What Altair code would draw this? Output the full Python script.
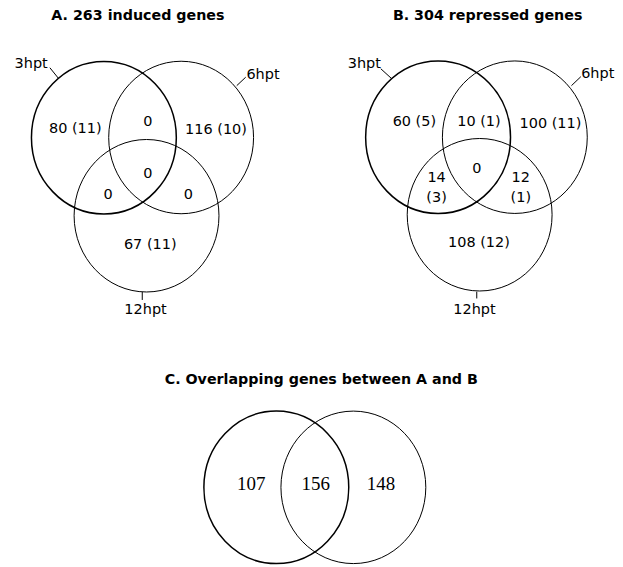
import altair as alt
import pandas as pd

# ---------------- data ----------------
titles = ["A. 263 induced genes", "B. 304 repressed genes",
          "C. Overlapping genes between A and B"]
sets_A = ["3hpt", "6hpt", "12hpt"]
sets_B = ["3hpt", "6hpt", "12hpt"]
sets_C = ["A", "B"]
labels_A = ["80 (11)", "0", "116 (10)", "0", "0", "0", "67 (11)"]
labels_B = ["60 (5)", "10 (1)", "100 (11)", "14\n(3)", "0", "12\n(1)", "108 (12)"]
labels_C = ["107", "156", "148"]

# ---------------- layout (page pixel positions) ----------------
title_x = [138.3, 489.2, 322.3]
title_y = [19, 19, 384]

circ_x_A = [104.2, 181.7, 147.0]
circ_y_A = [137.2, 137.0, 215.5]
circ_x_B = [439.5, 516.5, 481.2]
circ_y_B = [136.7, 136.7, 214.5]
circ_x_C = [277.2, 354.5]
circ_y_C = [488.0, 488.0]
circ_w_A = [1.5, 1.0, 1.0]
circ_w_B = [1.5, 1.0, 1.0]
circ_w_C = [1.5, 1.0]
RY = 76.5
ELLIPSE = "M -0.95 0 A 0.95 1 0 1 1 0.95 0 A 0.95 1 0 1 1 -0.95 0 Z"

reg_x_A = [75.5, 148.3, 216.7, 108.3, 148.3, 189.0, 150.7]
reg_y_A = [132.5, 125.0, 133.0, 198.3, 177.7, 198.3, 249.0]
reg_x_B = [415.7, 480.5, 552.2, 438.0, 478.5, 522.5, 480.5]
reg_y_B = [125.7, 125.7, 127.7, 181.7, 172.7, 181.7, 246.7]
reg_x_C = [252.0, 316.8, 382.2]
reg_y_C = [491.0, 491.0, 491.0]

setlab_x_A = [31.2, 263.8, 146.0]
setlab_y_A = [67.0, 78.0, 314.0]
setlab_x_B = [365.5, 599.7, 476.0]
setlab_y_B = [67.0, 77.0, 314.0]

lead_x_A = [50.0, 237.5, 142.7]
lead_y_A = [67.0, 85.0, 292.0]
lead_x2_A = [58.5, 246.5, 142.7]
lead_y2_A = [77.5, 76.5, 300.0]
lead_x_B = [382.0, 573.3, 478.3]
lead_y_B = [68.0, 85.0, 291.7]
lead_x2_B = [393.3, 582.7, 478.3]
lead_y2_B = [78.3, 76.0, 298.5]

# ---------------- tables ----------------
circles = pd.DataFrame({
    "set": sets_A + sets_B + sets_C,
    "x": circ_x_A + circ_x_B + circ_x_C,
    "y": circ_y_A + circ_y_B + circ_y_C,
    "w": circ_w_A + circ_w_B + circ_w_C,
})
regions_sans = pd.DataFrame({
    "label": labels_A + labels_B,
    "x": reg_x_A + reg_x_B,
    "y": reg_y_A + reg_y_B,
})
regions_serif = pd.DataFrame({"label": labels_C, "x": reg_x_C, "y": reg_y_C})
setlabels = pd.DataFrame({
    "label": sets_A + sets_B,
    "x": setlab_x_A + setlab_x_B,
    "y": setlab_y_A + setlab_y_B,
})
leaders = pd.DataFrame({
    "x": lead_x_A + lead_x_B, "y": lead_y_A + lead_y_B,
    "x2": lead_x2_A + lead_x2_B, "y2": lead_y2_A + lead_y2_B,
})
title_df = pd.DataFrame({"label": titles, "x": title_x, "y": title_y})

X = alt.X("x:Q", scale=alt.Scale(domain=[8, 615], nice=False, zero=False), axis=None)
Y = alt.Y("y:Q", scale=alt.Scale(domain=[8, 559], nice=False, zero=False, reverse=True), axis=None)

circle_layer = alt.Chart(circles).mark_point(
    shape=ELLIPSE, filled=False, color="black", opacity=1, size=(2 * RY) ** 2
).encode(x=X, y=Y, strokeWidth=alt.StrokeWidth("w:Q", scale=None))

lead_layer = alt.Chart(leaders).mark_rule(color="black", strokeWidth=1).encode(
    x=X, y=Y, x2="x2:Q", y2="y2:Q")

sans_text = alt.Chart(regions_sans).mark_text(
    font="DejaVu Sans", fontSize=14.5, color="black", align="center",
    baseline="alphabetic", lineBreak="\n", lineHeight=20
).encode(x=X, y=Y, text="label:N")

set_text = alt.Chart(setlabels).mark_text(
    font="DejaVu Sans", fontSize=14.5, color="black", align="center",
    baseline="alphabetic"
).encode(x=X, y=Y, text="label:N")

serif_text = alt.Chart(regions_serif).mark_text(
    font="Liberation Serif", fontSize=19, color="black", align="center",
    baseline="alphabetic"
).encode(x=X, y=Y, text="label:N")

title_text = alt.Chart(title_df).mark_text(
    font="DejaVu Sans", fontSize=14.3, fontWeight="bold", color="black",
    align="center", baseline="alphabetic"
).encode(x=X, y=Y, text="label:N")

chart = alt.layer(
    circle_layer, lead_layer, sans_text, set_text, serif_text, title_text
).properties(width=607, height=551, padding=0).configure_view(stroke=None)

chart.save("out.html", embed_options={"renderer": "svg", "actions": False})
